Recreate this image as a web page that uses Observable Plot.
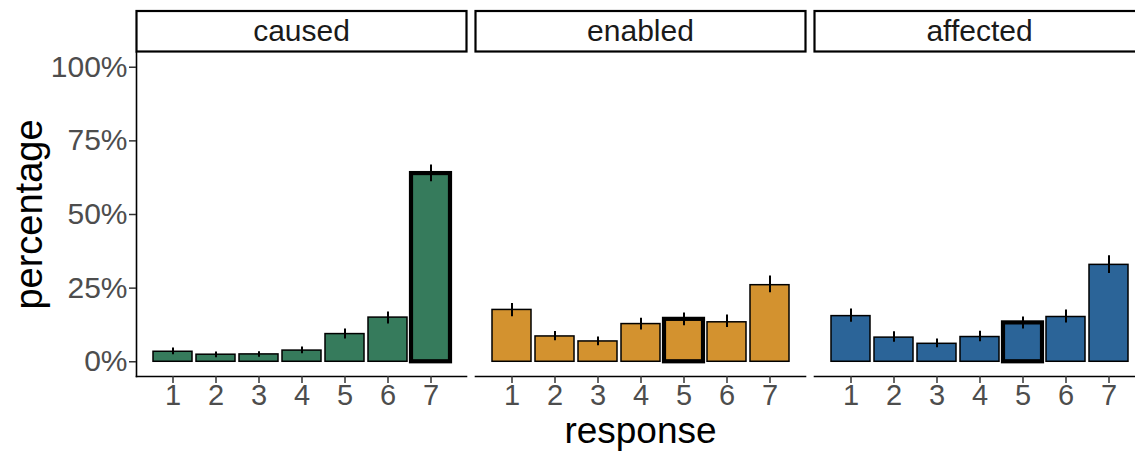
<!DOCTYPE html>
<html>
<head>
<meta charset="utf-8">
<script src="https://cdn.jsdelivr.net/npm/d3@7"></script>
<script src="https://cdn.jsdelivr.net/npm/@observablehq/plot@0.6"></script>
<style>
  html, body { margin: 0; padding: 0; background: white; overflow: hidden; }
  #chart { width: 1135px; height: 451px; overflow: hidden; }
  #chart svg { max-width: none !important; }
</style>
</head>
<body>
<div id="chart"></div>
<script>
// ---- data ----
const responses = ["1", "2", "3", "4", "5", "6", "7"];
const conditions = ["caused", "enabled", "affected"];
const conditionColors = ["#367B5C", "#D3922F", "#2B6498"];
const yTicks = [0, 0.25, 0.5, 0.75, 1];

// percentages (%), with lower / upper error bar ends
const causedPct  = [3.4, 2.4, 2.5, 3.8, 9.4, 15.0, 63.9];
const causedLow  = [2.4, 1.4, 1.5, 2.7, 7.7, 12.8, 61.1];
const causedHigh = [4.7, 3.3, 3.4, 5.0, 11.1, 16.9, 66.8];

const enabledPct  = [17.6, 8.6, 6.9, 12.8, 14.4, 13.4, 26.0];
const enabledLow  = [15.3, 7.1, 5.4, 10.8, 12.2, 11.6, 23.4];
const enabledHigh = [19.8, 10.3, 8.4, 14.8, 16.6, 15.9, 29.1];

const affectedPct  = [15.5, 8.2, 6.1, 8.4, 13.2, 15.2, 32.9];
const affectedLow  = [13.4, 6.6, 4.8, 6.8, 11.1, 13.2, 30.0];
const affectedHigh = [17.9, 10.2, 7.7, 10.4, 15.2, 17.6, 36.0];

// response highlighted (thick outline) in each panel
const highlighted = ["7", "5", "5"];

// ---- build table ----
const series = {
  caused: [causedPct, causedLow, causedHigh],
  enabled: [enabledPct, enabledLow, enabledHigh],
  affected: [affectedPct, affectedLow, affectedHigh]
};
const rows = [];
conditions.forEach((c, ci) => {
  const [p, lo, hi] = series[c];
  responses.forEach((r, i) => {
    rows.push({condition: c, response: r, pct: p[i] / 100, low: lo[i] / 100, high: hi[i] / 100, hl: highlighted[ci] === r});
  });
});

// ---- layout ----
const W = 1150, H = 451;
const mTop = 52, mBottom = 75, mLeft = 136, mRight = 6;
const panelH = H - mTop - mBottom;
const font = "'Liberation Sans', Arial, Helvetica, sans-serif";

const chart = Plot.plot({
  width: W,
  height: H,
  marginTop: mTop,
  marginBottom: mBottom,
  marginLeft: mLeft,
  marginRight: mRight,
  style: {fontFamily: font, background: "white", overflow: "visible"},
  fx: {domain: conditions, paddingInner: 9 / 339, paddingOuter: 0, label: null},
  x: {domain: responses, paddingInner: 0.1, paddingOuter: 0.33, label: null},
  y: {domain: [-0.05, 1.05], label: null},
  color: {domain: conditions, range: conditionColors},
  marks: [
    // strip boxes above each panel
    Plot.frame({stroke: "black", strokeWidth: 2.2, fill: "white", insetTop: -41.5, insetBottom: panelH + 1}),
    Plot.axisFx({anchor: "top", tickSize: 0, tickPadding: 12, fontSize: 30, fill: "#1a1a1a", label: null}),
    // axis lines
    Plot.frame({anchor: "bottom", stroke: "black", strokeWidth: 1.6}),
    Plot.frame({anchor: "left", stroke: "black", strokeWidth: 1.6, facetAnchor: "left"}),
    Plot.axisY({ticks: yTicks, tickFormat: d3.format(".0%"), tickSize: 7, tickPadding: 2, fontSize: 30,
                fill: "#4d4d4d", stroke: "#333", strokeWidth: 1.5, label: null}),
    Plot.axisX({tickSize: 7, tickPadding: 1, fontSize: 29, fill: "#4d4d4d", stroke: "#333", strokeWidth: 1.5, label: null}),
    // bars
    Plot.barY(rows.filter(d => !d.hl), {fx: "condition", x: "response", y1: 0, y2: "pct", fill: "condition", stroke: "black", strokeWidth: 1.5}),
    Plot.barY(rows.filter(d => d.hl), {fx: "condition", x: "response", y1: 0, y2: "pct", fill: "condition", stroke: "black", strokeWidth: 4.2}),
    // error bars
    Plot.ruleX(rows, {fx: "condition", x: "response", y1: "low", y2: "high", stroke: "black", strokeWidth: 2}),
    // axis titles
    Plot.text(["percentage"], {frameAnchor: "left", textAnchor: "middle", rotate: -90, dx: -107, fontSize: 38, lineAnchor: "middle", facetAnchor: "left", fill: "black"}),
    Plot.text([{fx: "enabled", t: "response"}], {fx: "fx", text: "t", frameAnchor: "bottom", textAnchor: "middle", lineAnchor: "bottom", dy: 66, fontSize: 37, fill: "black"})
  ]
});
chart.style.maxWidth = "none";
chart.style.height = H + "px";
document.getElementById("chart").appendChild(chart);
</script>
</body>
</html>
